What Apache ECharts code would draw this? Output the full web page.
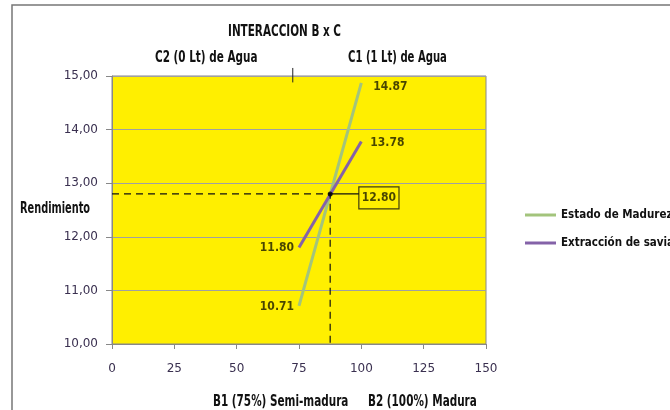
<!DOCTYPE html>
<html><head><meta charset="utf-8">
<script src="https://cdn.jsdelivr.net/npm/echarts@6/dist/echarts.min.js"></script>
<style>html,body{margin:0;padding:0;background:#fff}#c{width:670px;height:410px}</style>
</head><body><div id="c"></div>
<script>
// Data
const xLevels = [75, 100];
const seriesNames = ['Estado de Madurez', 'Extracción de savia'];
const greenVals = [10.71, 14.87];
const purpleVals = [11.80, 13.78];
const crossPoint = [87.5, 12.80];
const boxPoint = [99, 12.80];
const topTickX = 72.5;
const topTickY = [14.88, 15.15];
const xTicks = [0, 25, 50, 75, 100, 125, 150];
const yTicks = [10, 11, 12, 13, 14, 15];

const cond = '"DejaVu Sans Condensed","Liberation Sans Narrow",sans-serif';
const chart = echarts.init(document.getElementById('c'));
const green = '#a3c47c', purple = '#8462a8';
const lblStyle = {fontFamily: cond, fontWeight: 'bold', fontSize: 12, color: '#1a1a00'};
function txt(x, y, s, size, sx) {
  return {type: 'text', x: x, y: y, scaleX: sx, style: {text: s, font: 'bold ' + size + 'px ' + cond, fill: '#111'}, silent: true};
}

chart.setOption({
  animation: false,
  backgroundColor: '#fff',
  grid: {left: 112, top: 76, width: 374, height: 268, show: true, backgroundColor: '#ffef00', borderColor: '#888', borderWidth: 1},
  xAxis: {type: 'value', min: xTicks[0], max: xTicks[xTicks.length-1], interval: 25,
    axisLine: {onZero: false, lineStyle: {color: '#888'}}, axisTick: {show: true, length: 5, lineStyle: {color: '#888'}},
    splitLine: {show: false},
    axisLabel: {fontFamily: 'DejaVu Sans', fontSize: 12, color: '#3a3050', margin: 19}},
  yAxis: {type: 'value', min: yTicks[0], max: yTicks[yTicks.length-1], interval: 1,
    axisLine: {show: true, lineStyle: {color: '#888'}}, axisTick: {show: true, length: 6, lineStyle: {color: '#888'}},
    splitLine: {show: true, lineStyle: {color: '#a0a0a0', width: 1}},
    axisLabel: {fontFamily: 'DejaVu Sans', fontSize: 12, color: '#3a3050', margin: 14,
      formatter: v => v.toFixed(2).replace('.', ',')}},
  legend: {show: true, orient: 'vertical', left: 520, top: 204, itemGap: 16, itemWidth: 31, itemHeight: 3,
    icon: 'rect', data: seriesNames,
    textStyle: {fontFamily: cond, fontWeight: 'bold', fontSize: 11.5, color: '#111'}},
  graphic: [
    {type: 'rect', shape: {x: 12, y: 5, width: 700, height: 420}, style: {fill: 'none', stroke: '#777', lineWidth: 1.5}, silent: true, z: -1},
    txt(228, 24, 'INTERACCION B x C', 16, 0.725),
    txt(155, 50, 'C2 (0 Lt) de Agua', 16, 0.725),
    txt(348, 50, 'C1 (1 Lt) de Agua', 16, 0.70),
    txt(20, 201, 'Rendimiento', 16, 0.68),
    txt(213, 394, 'B1 (75%) Semi-madura', 16, 0.725),
    txt(368, 394, 'B2 (100%) Madura', 16, 0.725)
  ],
  series: [
    {name: seriesNames[0], type: 'line', data: xLevels.map((x, i) => [x, greenVals[i]]), symbol: 'none',
      lineStyle: {color: green, width: 3}, itemStyle: {color: green}, z: 5},
    {name: seriesNames[1], type: 'line', data: xLevels.map((x, i) => [x, purpleVals[i]]), symbol: 'none',
      lineStyle: {color: purple, width: 3}, itemStyle: {color: purple}, z: 6},
    // data labels
    {type: 'scatter', symbolSize: 0, silent: true, z: 7,
      data: [
        {value: [xLevels[0], greenVals[0]], label: {position: 'left', offset: [0, 1]}},
        {value: [xLevels[1], greenVals[1]], label: {position: 'right', offset: [7, 4]}},
        {value: [xLevels[0], purpleVals[0]], label: {position: 'left'}},
        {value: [xLevels[1], purpleVals[1]], label: {position: 'right', offset: [4, 1]}}
      ],
      label: Object.assign({show: true, formatter: p => p.value[1].toFixed(2)}, lblStyle)},
    // dashed guides
    {type: 'line', data: [[xTicks[0], crossPoint[1]], crossPoint, [crossPoint[0], yTicks[0]]], symbol: 'none',
      lineStyle: {color: '#111', width: 1.2, type: [7, 5]}, z: 8},
    {type: 'line', data: [crossPoint, boxPoint], symbol: 'none', lineStyle: {color: '#111', width: 1.2}, z: 8},
    {type: 'scatter', data: [crossPoint], symbolSize: 5, itemStyle: {color: '#000'}, z: 9},
    {type: 'scatter', data: [boxPoint], symbolSize: 0, z: 9,
      label: Object.assign({show: true, position: 'right', distance: 0, offset: [0, 4], formatter: p => p.value[1].toFixed(2),
        borderColor: '#111', borderWidth: 1.2, padding: [6, 3, 4, 3]}, lblStyle)},
    // top tick mark
    {type: 'line', data: topTickY.map(y => [topTickX, y]), symbol: 'none', clip: false,
      lineStyle: {color: '#222', width: 1}, z: 9}
  ]
});
</script></body></html>
